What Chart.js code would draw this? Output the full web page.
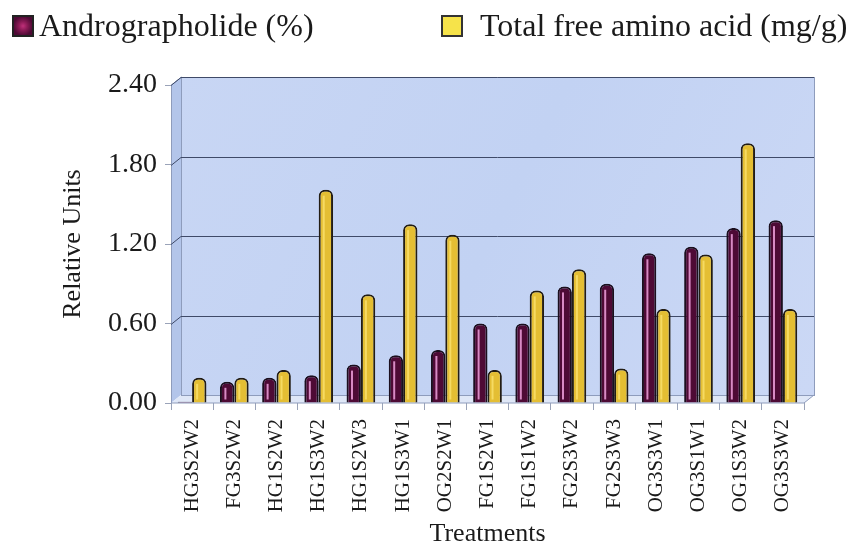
<!DOCTYPE html>
<html>
<head>
<meta charset="utf-8">
<script src="https://cdn.jsdelivr.net/npm/chart.js@4.4.1/dist/chart.umd.min.js"></script>
<style>
  html, body { margin:0; padding:0; background:#ffffff; }
  #wrap { position:relative; width:851px; height:547px; overflow:hidden; }
  canvas { position:absolute; left:0; top:0; }
  .lg { position:absolute; font-family:"Liberation Serif", "Times New Roman", serif; font-size:32px; line-height:32px; color:#1a1a1a; white-space:nowrap; }
  .box { position:absolute; width:18px; height:18px; border:2px solid #222; }
</style>
</head>
<body>
<div id="wrap">
  <canvas id="c" width="851" height="547"></canvas>
  <div class="box" style="left:12px; top:15px; background:radial-gradient(circle at 50% 50%, #c0307a 0, #8a1a55 35%, #4e0a35 75%);"></div>
  <div class="lg" style="left:39px; top:9px;">Andrographolide (%)</div>
  <div class="box" style="left:441px; top:15px; background:#f6e34a; border-color:#333;"></div>
  <div class="lg" style="left:480px; top:9px;">Total free amino acid (mg/g)</div>
</div>
<script>
const categories = ["HG3S2W2","FG3S2W2","HG1S2W2","HG1S3W2","HG1S2W3","HG1S3W1","OG2S2W1","FG1S2W1","FG1S1W2","FG2S3W2","FG2S3W3","OG3S3W1","OG3S1W1","OG1S3W2","OG3S3W2"];
const andrographolide = [0.01,0.16,0.19,0.21,0.29,0.36,0.40,0.60,0.60,0.88,0.90,1.13,1.18,1.32,1.38];
const aminoAcid = [0.19,0.19,0.25,1.61,0.82,1.35,1.27,0.25,0.85,1.01,0.26,0.71,1.12,1.96,0.71];
const yTicks = [0, 0.6, 1.2, 1.8, 2.4];

const DX = 10, DY = -8;

const wallPlugin = {
  id: 'wall',
  beforeDatasetsDraw(chart) {
    const {ctx, chartArea: a, scales: {y}} = chart;
    const L = a.left, R = a.right, T = a.top, B = a.bottom;
    ctx.save();
    const g = ctx.createLinearGradient(L, T, R, B);
    g.addColorStop(0, '#c8d6f4');
    g.addColorStop(0.5, '#c2d2f3');
    g.addColorStop(1, '#cbd8f5');
    ctx.fillStyle = g;
    ctx.fillRect(L + DX, T + DY, R - L, B - T);
    ctx.fillStyle = '#b3c5ea';
    ctx.beginPath();
    ctx.moveTo(L, T); ctx.lineTo(L + DX, T + DY); ctx.lineTo(L + DX, B + DY); ctx.lineTo(L, B); ctx.closePath();
    ctx.fill();
    ctx.fillStyle = '#dfe7f7';
    ctx.beginPath();
    ctx.moveTo(L, B); ctx.lineTo(L + DX, B + DY); ctx.lineTo(R + DX, B + DY); ctx.lineTo(R, B); ctx.closePath();
    ctx.fill();
    ctx.strokeStyle = '#8e9cbc';
    ctx.lineWidth = 1;
    ctx.strokeRect(L + DX + 0.5, T + DY + 0.5, R - L, B - T);
    ctx.beginPath();
    ctx.moveTo(L + 0.5, T); ctx.lineTo(L + DX + 0.5, T + DY);
    ctx.moveTo(L + 0.5, B); ctx.lineTo(R, B); ctx.lineTo(R + DX, B + DY);
    ctx.moveTo(L + 0.5, T); ctx.lineTo(L + 0.5, B);
    ctx.stroke();
    ctx.strokeStyle = '#3f4a68';
    ctx.beginPath();
    yTicks.forEach(v => {
      if (v === 0) return;
      const py = Math.round(y.getPixelForValue(v)) + 0.5;
      ctx.moveTo(L, py); ctx.lineTo(L + DX, py + DY); ctx.lineTo(R + DX, py + DY);
    });
    ctx.stroke();
    ctx.restore();
  },
  afterDatasetsDraw(chart) {
    const {ctx} = chart;
    ctx.save();
    chart.getDatasetMeta(0).data.forEach(bar => {
      const w = bar.width;
      const top = Math.min(bar.y, bar.base);
      if (bar.base - top < 10) return;
      ctx.strokeStyle = '#d88ac4';
      ctx.lineWidth = 2;
      ctx.beginPath();
      ctx.moveTo(bar.x - w * 0.12, top + 6);
      ctx.lineTo(bar.x - w * 0.12, bar.base - 3);
      ctx.stroke();
    });
    chart.getDatasetMeta(1).data.forEach(bar => {
      const w = bar.width;
      const top = Math.min(bar.y, bar.base);
      if (bar.base - top < 10) return;
      ctx.strokeStyle = 'rgba(250,225,110,0.8)';
      ctx.lineWidth = 2;
      ctx.beginPath();
      ctx.moveTo(bar.x - w * 0.15, top + 6);
      ctx.lineTo(bar.x - w * 0.15, bar.base - 3);
      ctx.stroke();
    });
    ctx.restore();
  }
};

const serif = '"Liberation Serif", "Times New Roman", serif';

new Chart(document.getElementById('c'), {
  type: 'bar',
  data: {
    labels: categories,
    datasets: [
      {
        label: 'Andrographolide (%)',
        data: andrographolide,
        backgroundColor: '#4e0a35',
        borderColor: '#1b0f1e',
        borderWidth: 2,
        borderRadius: {topLeft: 6, topRight: 6},
        borderSkipped: 'bottom',
        categoryPercentage: 0.68,
        barPercentage: 1.0
      },
      {
        label: 'Total free amino acid (mg/g)',
        data: aminoAcid,
        backgroundColor: '#e4be33',
        borderColor: '#231d14',
        borderWidth: 2,
        borderRadius: {topLeft: 6, topRight: 6},
        borderSkipped: 'bottom',
        categoryPercentage: 0.68,
        barPercentage: 1.0
      }
    ]
  },
  options: {
    responsive: false,
    animation: false,
    layout: { padding: { top: 85, right: 47, left: 60, bottom: 0 } },
    plugins: {
      legend: { display: false },
      tooltip: { enabled: false }
    },
    scales: {
      x: {
        offset: true,
        afterFit: s => { s.height = 144; },
        grid: { display: true, drawOnChartArea: false, drawTicks: true, tickLength: 7, color: '#9aa3b8', offset: true },
        border: { display: false },
        ticks: {
          autoSkip: false, maxRotation: 90, minRotation: 90, padding: 9,
          color: '#1a1a1a', font: { family: serif, size: 21 }
        },
        title: {
          display: true, text: 'Treatments', color: '#1a1a1a',
          font: { family: serif, size: 26, lineHeight: 1 }, padding: { top: 0, bottom: 0 }
        }
      },
      y: {
        min: 0, max: 2.4,
        afterFit: s => { s.width = 111; },
        afterBuildTicks: s => { s.ticks = yTicks.map(v => ({ value: v })); },
        grid: { display: true, drawOnChartArea: false, drawTicks: true, tickLength: 6, color: '#9aa3b8' },
        border: { display: false },
        ticks: {
          padding: 8, color: '#1a1a1a', font: { family: serif, size: 28 },
          callback: v => Number(v).toFixed(2)
        },
        title: {
          display: true, text: 'Relative Units', color: '#1a1a1a',
          font: { family: serif, size: 26, lineHeight: 1 }, padding: { top: 0, bottom: 0 }
        }
      }
    }
  },
  plugins: [wallPlugin]
});
</script>
</body>
</html>
